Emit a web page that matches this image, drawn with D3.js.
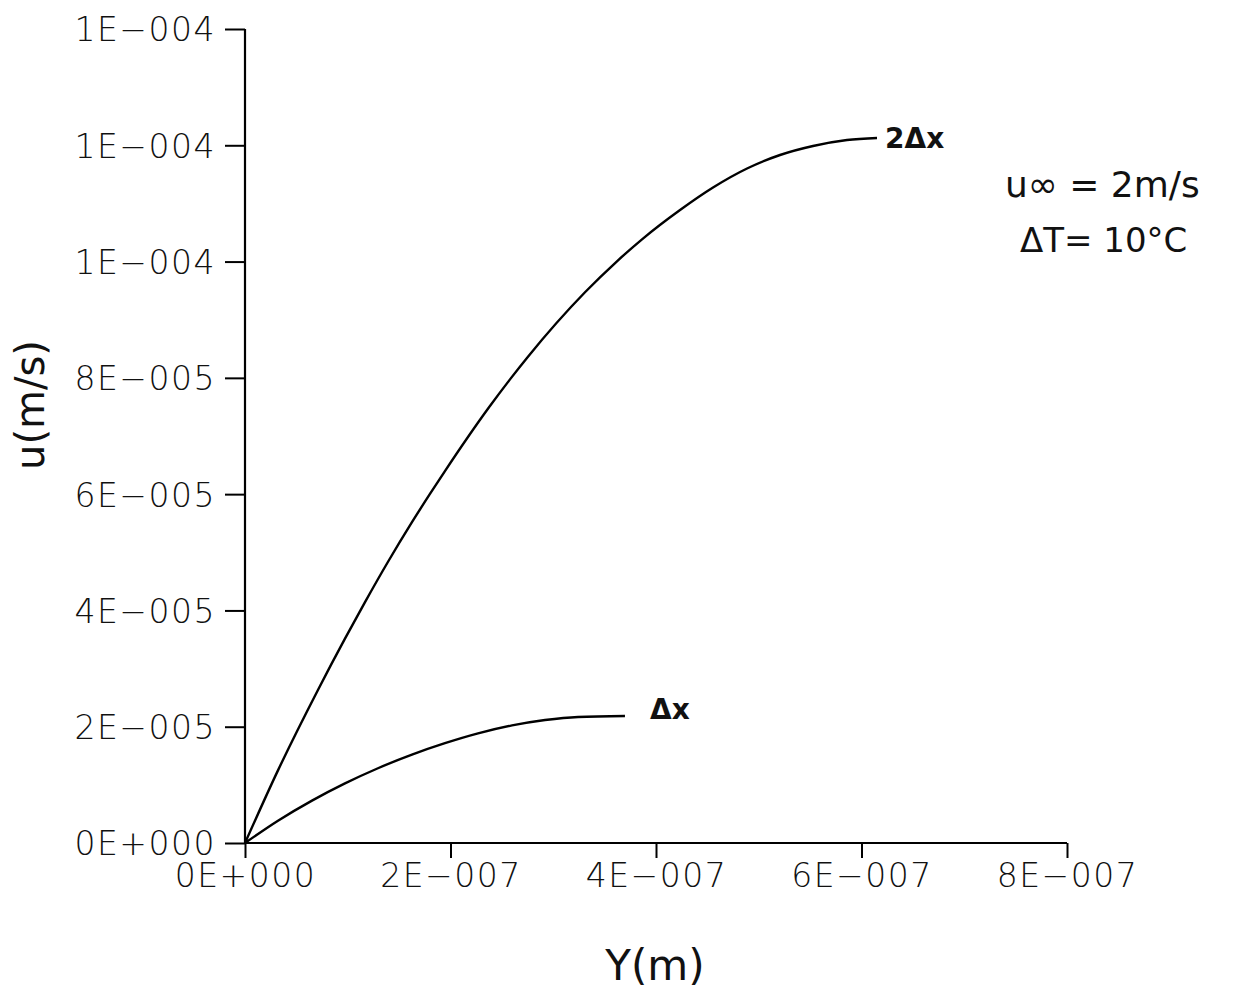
<!DOCTYPE html>
<html>
<head>
<meta charset="utf-8">
<script src="https://cdn.jsdelivr.net/npm/d3@7"></script>
<style>
  html, body { margin: 0; padding: 0; background: #fff; }
  svg { display: block; }
</style>
</head>
<body>
<div id="chart"></div>
<script>
// ---- data ----
const xTicks = [0, 2e-7, 4e-7, 6e-7, 8e-7];
const xTickLabels = ["0E+000", "2E\u2212007", "4E\u2212007", "6E\u2212007", "8E\u2212007"];
const yTicks = [0, 2e-5, 4e-5, 6e-5, 8e-5, 1.0e-4, 1.2e-4, 1.4e-4];
const yTickLabels = ["0E+000", "2E\u2212005", "4E\u2212005", "6E\u2212005", "8E\u2212005", "1E\u2212004", "1E\u2212004", "1E\u2212004"];

// curve "2Δx": Y (m) and u (m/s)
const y2dx = [0, 0.321e-7, 0.710e-7, 0.973e-7, 1.168e-7, 1.392e-7, 1.625e-7, 1.800e-7, 1.946e-7, 2.375e-7, 2.579e-7, 2.754e-7, 3.309e-7, 3.620e-7, 3.864e-7, 4.234e-7, 4.555e-7, 4.886e-7, 5.207e-7, 5.528e-7, 5.859e-7, 6.151e-7];
const u2dx = [0, 1.249e-5, 2.632e-5, 3.514e-5, 4.143e-5, 4.837e-5, 5.518e-5, 6.004e-5, 6.397e-5, 7.494e-5, 7.974e-5, 8.364e-5, 9.472e-5, 10.005e-5, 10.383e-5, 10.887e-5, 11.274e-5, 11.601e-5, 11.833e-5, 11.988e-5, 12.091e-5, 12.126e-5];

// curve "Δx"
const ydx = [0, 0.321e-7, 0.652e-7, 0.973e-7, 1.294e-7, 1.625e-7, 1.946e-7, 2.268e-7, 2.599e-7, 2.920e-7, 3.241e-7, 3.698e-7];
const udx = [0, 0.383e-5, 0.729e-5, 1.025e-5, 1.286e-5, 1.520e-5, 1.716e-5, 1.885e-5, 2.022e-5, 2.115e-5, 2.168e-5, 2.184e-5];

const seriesNames = ["2\u0394x", "\u0394x"];
const annotations = ["u\u221e  = 2m/s", "\u0394T= 10\u00b0C"];
const xTitle = "Y(m)";
const yTitle = "u(m/s)";

// ---- layout ----
const W = 1240, H = 989;
const svg = d3.select("#chart").append("svg").attr("width", W).attr("height", H);

const x = d3.scaleLinear().domain([0, 8e-7]).range([245, 1067]);
const y = d3.scaleLinear().domain([0, 1.4e-4]).range([843, 29]);

const tickFont = "'DejaVu Sans', sans-serif";

// axes
const yAxis = d3.axisLeft(y).tickValues(yTicks).tickSize(20).tickSizeOuter(0)
  .tickFormat((d, i) => yTickLabels[i]).tickPadding(9);
const gy = svg.append("g").attr("transform", `translate(${x(0)},0)`).call(yAxis);
gy.select(".domain").remove();
gy.selectAll(".tick line").attr("stroke", "#000").attr("stroke-width", 2);
gy.selectAll(".tick text").attr("font-family", tickFont).attr("font-size", 33)
  .attr("font-weight", 300)
  .attr("fill", "#111").style("letter-spacing", "1.5px").attr("dy", "0.36em");

const xAxis = d3.axisBottom(x).tickValues(xTicks).tickSize(15).tickSizeOuter(0)
  .tickFormat((d, i) => xTickLabels[i]).tickPadding(6);
const gx = svg.append("g").attr("transform", `translate(0,${y(0)})`).call(xAxis);
gx.select(".domain").remove();
gx.selectAll(".tick line").attr("stroke", "#000").attr("stroke-width", 2);
gx.selectAll(".tick text").attr("font-family", tickFont).attr("font-size", 33)
  .attr("font-weight", 300)
  .attr("fill", "#111").style("letter-spacing", "1.5px");

// axis lines
svg.append("line").attr("x1", x(0)).attr("x2", x(0)).attr("y1", y(1.4e-4)).attr("y2", y(0))
  .attr("stroke", "#000").attr("stroke-width", 2.2);
svg.append("line").attr("x1", x(0)).attr("x2", x(8e-7)).attr("y1", y(0)).attr("y2", y(0))
  .attr("stroke", "#000").attr("stroke-width", 2.2);

// curves
const line = d3.line().x(d => x(d[0])).y(d => y(d[1])).curve(d3.curveMonotoneX);
const s1 = y2dx.map((v, i) => [v, u2dx[i]]);
const s2 = ydx.map((v, i) => [v, udx[i]]);
[s1, s2].forEach(s => {
  svg.append("path").attr("d", line(s)).attr("fill", "none")
    .attr("stroke", "#000").attr("stroke-width", 2.4);
});

// series labels (handwritten style)
const handFont = "'Comic Sans MS', 'DejaVu Sans', sans-serif";
const last1 = s1[s1.length - 1], last2 = s2[s2.length - 1];
svg.append("text").attr("x", x(last1[0]) + 8).attr("y", y(last1[1]) + 10)
  .attr("font-family", handFont).attr("font-size", 28).attr("font-weight", "bold")
  .attr("fill", "#111").text(seriesNames[0]);
svg.append("text").attr("x", x(last2[0]) + 25).attr("y", y(last2[1]) + 3)
  .attr("font-family", handFont).attr("font-size", 28).attr("font-weight", "bold")
  .attr("fill", "#111").text(seriesNames[1]);

// annotations
svg.append("text").attr("x", 1005).attr("y", 197).attr("font-family", handFont)
  .attr("font-size", 36).attr("fill", "#111").text(annotations[0]);
svg.append("text").attr("x", 1020).attr("y", 252).attr("font-family", handFont)
  .attr("font-size", 34).attr("fill", "#111").text(annotations[1]);

// axis titles
svg.append("text").attr("x", 655).attr("y", 980).attr("text-anchor", "middle")
  .attr("font-family", handFont).attr("font-size", 42).attr("fill", "#111").text(xTitle);
svg.append("text").attr("transform", "translate(44,405) rotate(-90)").attr("text-anchor", "middle")
  .attr("font-family", handFont).attr("font-size", 40).attr("fill", "#111").text(yTitle);
</script>
</body>
</html>
